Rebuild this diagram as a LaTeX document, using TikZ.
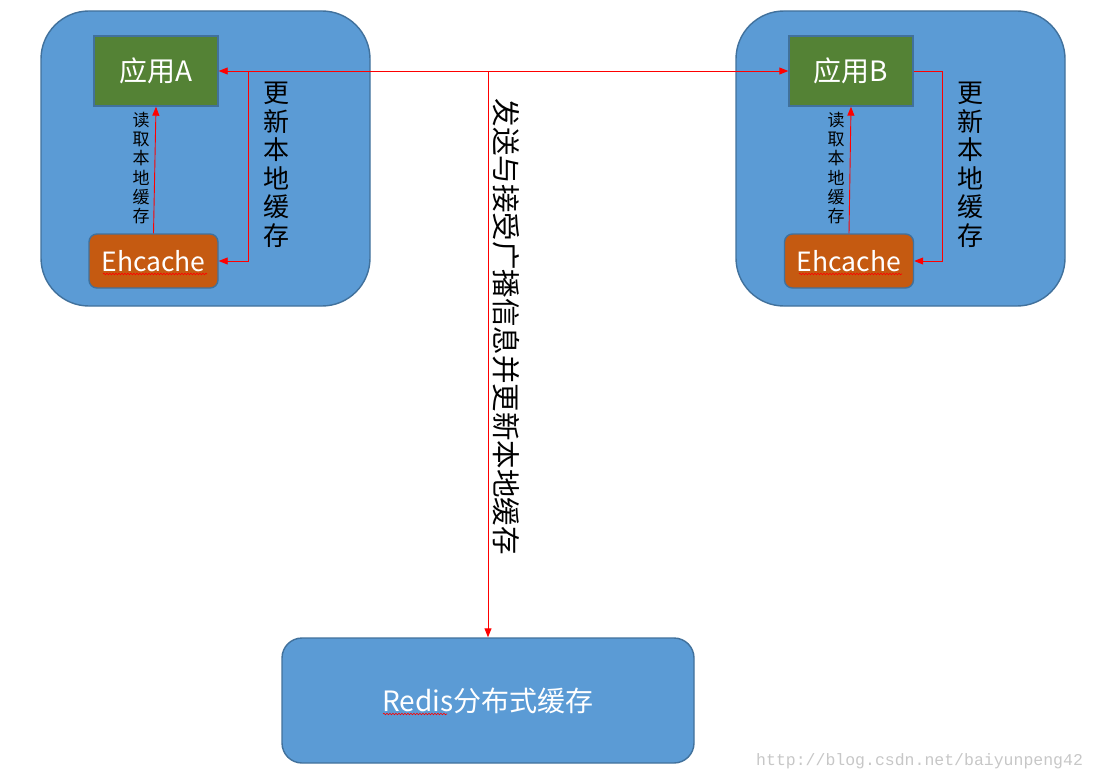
\documentclass[tikz,border=0pt]{standalone}
\usepackage{fontspec}
\setmainfont{Noto Sans CJK SC}
\newfontfamily\wmfont{Liberation Mono}
\usetikzlibrary{arrows.meta,decorations.pathmorphing}
\definecolor{boxblue}{HTML}{5B9BD5}
\definecolor{edgeblue}{HTML}{41719C}
\definecolor{appgreen}{HTML}{548235}
\definecolor{cacheorange}{HTML}{C55A11}
\definecolor{linkred}{HTML}{FF0000}
\tikzset{
  cont/.style={draw=edgeblue, fill=boxblue, line width=1.4pt, rounded corners=48pt,
    inner sep=0pt, minimum width=329pt, minimum height=295pt},
  appbox/.style={draw=edgeblue, fill=appgreen, line width=1.4pt, inner sep=0pt,
    minimum width=124pt, minimum height=70pt, text=white, font=\fontsize{28}{32}\selectfont},
  cachebox/.style={draw=edgeblue, fill=cacheorange, line width=1.4pt, rounded corners=8pt,
    inner sep=0pt, minimum width=129pt, minimum height=54pt, text=white, font=\fontsize{26.5}{30}\selectfont},
  redisbox/.style={draw=edgeblue, fill=boxblue, line width=1.4pt, rounded corners=20pt,
    inner sep=0pt, minimum width=412pt, minimum height=125pt, text=white, font=\fontsize{28}{32}\selectfont},
  biglbl/.style={align=center, inner sep=0pt, font=\fontsize{26}{28.5}\selectfont},
  smalllbl/.style={align=center, inner sep=0pt, font=\fontsize{17}{19.3}\selectfont},
  tip/.tip={Triangle[length=9pt,width=7pt]},
  arr/.style={draw=linkred, line width=0.9pt, -tip},
  wavy/.style={draw=linkred, line width=0.6pt, decorate,
    decoration={snake, amplitude=0.8pt, segment length=3pt}},
}
\begin{document}
\begin{tikzpicture}[x=1pt,y=-1pt]
\useasboundingbox (0,0) rectangle (1097,781);
% containers
\node[cont] (boxA) at (205.5,158.5) {};
\node[cont] (boxB) at (900.5,158.5) {};
% apps and caches
\node[appbox] (appA) at (156,71) {应用A};
\node[appbox] (appB) at (851,71) {应用B};
\node[cachebox] (ehA) at (153.5,261) {Ehcache};
\node[cachebox] (ehB) at (849,261) {Ehcache};
\node[redisbox] (redis) at (488,700.5) {Redis分布式缓存};
% spell-check underlines
\draw[wavy] (103,274) -- (207,274);
\draw[wavy] (799,274) -- (902,274);
\draw[wavy] (383,714) -- (447,714);
% labels
\node[smalllbl] (rdA) at (141,168) {读\\取\\本\\地\\缓\\存};
\node[smalllbl] (rdB) at (836,168) {读\\取\\本\\地\\缓\\存};
\node[biglbl] (upA) at (276,165) {更\\新\\本\\地\\缓\\存};
\node[biglbl] (upB) at (970,165) {更\\新\\本\\地\\缓\\存};
\node[inner sep=0pt, rotate=-90, font=\fontsize{28.5}{30}\selectfont] (bc) at (506,327) {发送与接受广播信息并更新本地缓存};
% connectors
\draw[arr] (ehA.north) -- (appA.south);
\draw[arr] (ehB.north) -- (appB.south);
\draw[draw=linkred, line width=0.9pt, tip-tip] (appA.east) -- (appB.west);
\coordinate (jA) at ([xshift=30pt]appA.east);
\coordinate (jR) at (redis.north |- appA.east);
\draw[arr] (jA) |- (ehA.east);
\draw[arr] (jR) -- (redis.north);
\draw[arr] (appB.east) -- ++(29,0) |- (ehB.east);
% watermark
\node[anchor=west, inner sep=0pt, text=black!22, font=\wmfont\fontsize{16.5}{18}\selectfont] (wm) at (756,761) {http://blog.csdn.net/baiyunpeng42};
\end{tikzpicture}
\end{document}
